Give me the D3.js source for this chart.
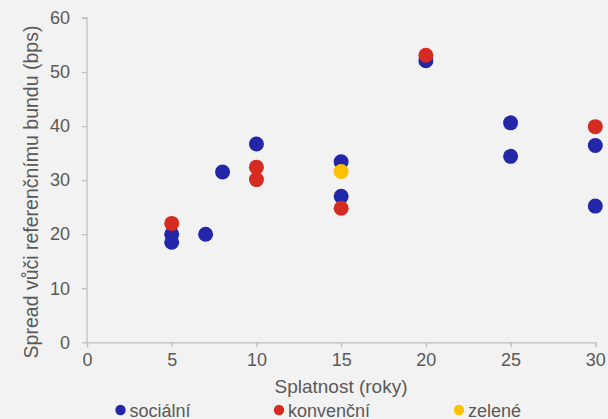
<!DOCTYPE html>
<html>
<head>
<meta charset="utf-8">
<script src="https://cdn.jsdelivr.net/npm/d3@7"></script>
<style>
  html, body { margin: 0; padding: 0; background: #f2f2f2; }
  svg { display: block; font-family: "Liberation Sans", Arial, sans-serif; }
</style>
</head>
<body>
<svg id="chart" width="608" height="419"></svg>
<script>
// Splatnost (roky) a spread vůči referenčnímu bundu (bps) podle typu dluhopisu
const socialniX = [5, 5, 7, 8, 10, 15, 15, 20, 25, 25, 30, 30];
const socialniY = [20.0, 18.5, 20.0, 31.5, 36.7, 33.4, 27.0, 52.1, 40.6, 34.4, 36.4, 25.2];
const konvencniX = [5, 10, 10, 15, 20, 30];
const konvencniY = [22.0, 32.4, 30.1, 24.8, 53.1, 39.9];
const zeleneX = [15];
const zeleneY = [31.6];

const seriesNames = ["sociální", "konvenční", "zelené"];
const seriesColors = ["#2326a8", "#d62b20", "#ffc000"];
const xTicks = [0, 5, 10, 15, 20, 25, 30];
const yTicks = [0, 10, 20, 30, 40, 50, 60];

const series = [
  { name: seriesNames[0], color: seriesColors[0], xs: socialniX, ys: socialniY },
  { name: seriesNames[1], color: seriesColors[1], xs: konvencniX, ys: konvencniY },
  { name: seriesNames[2], color: seriesColors[2], xs: zeleneX, ys: zeleneY }
];

const svg = d3.select("#chart");
const textColor = "#595959";
const axisColor = "#bfbfbf";

const x = d3.scaleLinear().domain([0, 30]).range([87, 595.3]);
const y = d3.scaleLinear().domain([0, 60]).range([342.3, 18]);

// Osa X
const gx = svg.append("g").attr("transform", `translate(0,${y(0)})`)
  .call(d3.axisBottom(x).tickValues(xTicks).tickSize(5).tickPadding(6).tickFormat(d3.format("d")));
// Osa Y
const gy = svg.append("g").attr("transform", `translate(${x(0)},0)`)
  .call(d3.axisLeft(y).tickValues(yTicks).tickSize(5).tickPadding(12).tickFormat(d3.format("d")));

[gx, gy].forEach(g => {
  g.select(".domain").attr("stroke", axisColor).attr("stroke-width", 1.3);
  g.selectAll(".tick line").attr("stroke", axisColor).attr("stroke-width", 1.3);
  g.selectAll(".tick text").attr("fill", textColor).attr("font-size", 18);
});
gy.select(".domain").attr("d", `M-5,${y(60)}H0V${y(0)}`);

// Názvy os
svg.append("text")
  .attr("x", 341).attr("y", 393)
  .attr("text-anchor", "middle").attr("fill", textColor).attr("font-size", 19)
  .text("Splatnost (roky)");
svg.append("text")
  .attr("transform", "translate(38,192) rotate(-90)")
  .attr("text-anchor", "middle").attr("fill", textColor).attr("font-size", 19.5)
  .text("Spread vůči referenčnímu bundu (bps)");

// Body
series.forEach(s => {
  svg.append("g").selectAll("circle")
    .data(s.xs.map((v, i) => [v, s.ys[i]]))
    .join("circle")
    .attr("cx", d => x(d[0]))
    .attr("cy", d => y(d[1]))
    .attr("r", 7.5)
    .attr("fill", s.color);
});

// Legenda
const legendX = [120.5, 279, 459];
const legend = svg.append("g");
series.forEach((s, i) => {
  const g = legend.append("g").attr("transform", `translate(${legendX[i]},410)`);
  g.append("circle").attr("r", 5.2).attr("fill", s.color);
  g.append("text").attr("x", 9).attr("y", 6.5)
    .attr("fill", textColor).attr("font-size", 18).text(s.name);
});
</script>
</body>
</html>
